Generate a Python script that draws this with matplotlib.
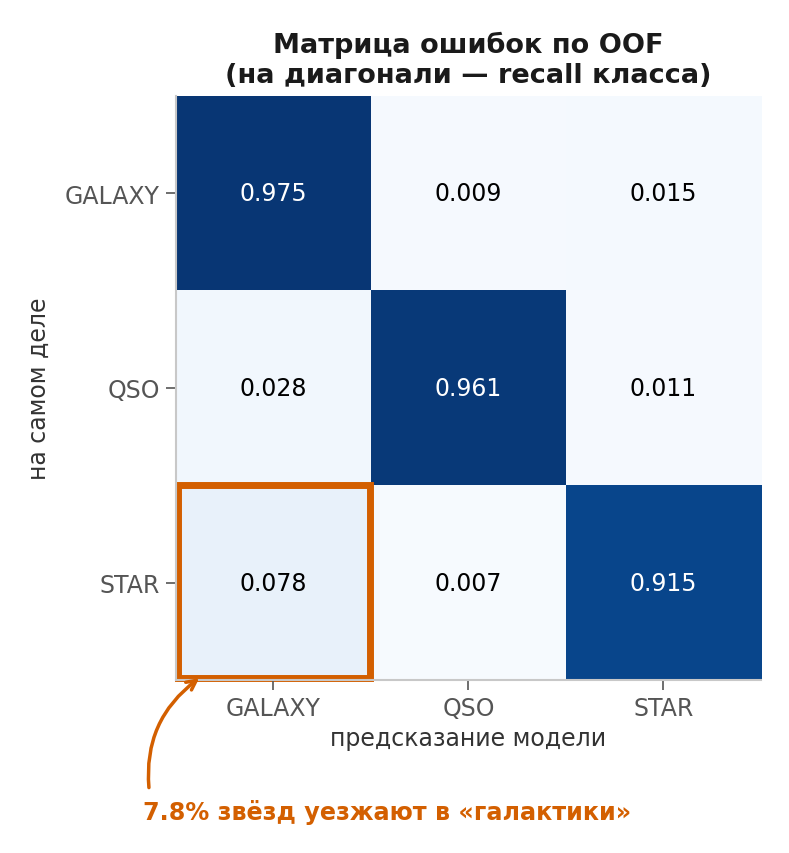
import numpy as np
import matplotlib.pyplot as plt
from matplotlib.patches import Rectangle

classes = ["GALAXY", "QSO", "STAR"]
cm = np.array([
    [0.975, 0.009, 0.015],
    [0.028, 0.961, 0.011],
    [0.078, 0.007, 0.915],
])

accent = "#d35f00"

fig = plt.figure(figsize=(7.89, 8.54), dpi=100)
ax = fig.add_axes([0.223, 0.2026, 0.7415, 0.6838])

ax.imshow(cm, cmap="Blues", vmin=0, vmax=1, aspect="auto")

for i in range(len(classes)):
    for j in range(len(classes)):
        v = cm[i, j]
        ax.text(j, i, f"{v:.3f}", ha="center", va="center", fontsize=17,
                color="white" if v > 0.5 else "black")

ax.set_xticks(range(len(classes)))
ax.set_xticklabels(classes)
ax.set_yticks(range(len(classes)))
ax.set_yticklabels(classes)
ax.tick_params(colors="#555555", labelsize=17, length=7, width=1.2, pad=4.5)

for s in ["top", "right"]:
    ax.spines[s].set_visible(False)
for s in ["left", "bottom"]:
    ax.spines[s].set_color("#c8c8c8")
    ax.spines[s].set_linewidth(1.5)

ax.set_xlabel("предсказание модели", fontsize=17, color="#333333", labelpad=4)
ax.set_ylabel("на самом деле", fontsize=17, color="#333333", labelpad=10)
ax.set_title("Матрица ошибок по OOF\n(на диагонали — recall класса)",
             fontsize=19.5, fontweight="bold", color="#1a1a1a", pad=10)

# highlight STAR -> GALAXY
ax.add_patch(Rectangle((-0.49, 1.5), 0.985, 0.99, fill=False,
                       edgecolor=accent, linewidth=5, clip_on=False))

ax.annotate("7.8% звёзд уезжают в «галактики»",
            xy=(-0.38, 2.49), xycoords="data",
            xytext=(0.4905, 0.049), textcoords="figure fraction",
            ha="center", va="center", fontsize=17.2, fontweight="bold", color=accent,
            arrowprops=dict(arrowstyle="->", color=accent, lw=2.5,
                            connectionstyle="arc3,rad=-0.3",
                            relpos=(0.015, 1.0), shrinkA=6, shrinkB=0),
            annotation_clip=False)

fig.savefig("out.png", dpi=100)
